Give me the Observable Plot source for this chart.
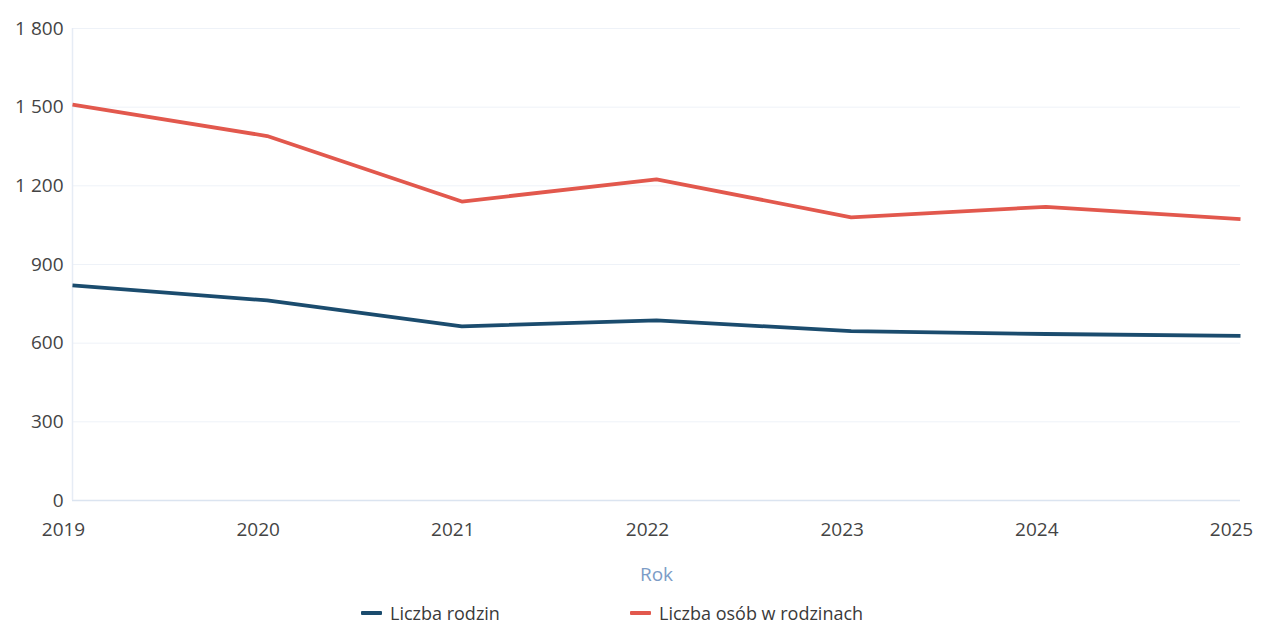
<!DOCTYPE html>
<html>
<head>
<meta charset="utf-8">
<script src="https://cdn.jsdelivr.net/npm/d3@7"></script>
<script src="https://cdn.jsdelivr.net/npm/@observablehq/plot@0.6"></script>
<style>
  body { margin: 0; background: #ffffff; font-family: "Open Sans", sans-serif; }
  #chart { position: relative; width: 1262px; }
  .legend { position: relative; height: 40px; font-family: "Open Sans", sans-serif; font-size: 18px; color: #3a3a3a; }
  .legend .item { position: absolute; top: 6px; display: flex; align-items: center; white-space: nowrap; }
  .legend .sw { width: 21px; height: 4px; margin-right: 8px; border-radius: 1px; }
</style>
</head>
<body>
<div id="chart"></div>
<script>
const years = [2019, 2020, 2021, 2022, 2023, 2024, 2025];
const liczbaRodzin = [820, 763, 664, 687, 646, 635, 628];
const liczbaOsob = [1510, 1390, 1140, 1225, 1080, 1120, 1073];
const seriesNames = ["Liczba rodzin", "Liczba osób w rodzinach"];
const seriesColors = ["#1b4c6e", "#e2584d"];
const yTicks = [0, 300, 600, 900, 1200, 1500, 1800];
const xLabel = "Rok";

const rows = [];
years.forEach((yr, i) => {
  rows.push({year: yr, value: liczbaRodzin[i], series: seriesNames[0]});
  rows.push({year: yr, value: liczbaOsob[i], series: seriesNames[1]});
});

const loc = d3.formatLocale({thousands: " ", grouping: [3], decimal: ",", currency: ["", ""]});
const fmt = loc.format(",d");

const plot = Plot.plot({
  width: 1262,
  height: 595,
  marginLeft: 72,
  marginRight: 22,
  marginTop: 28,
  marginBottom: 95,
  style: {fontFamily: "Open Sans, sans-serif", fontSize: "19px", color: "#444", background: "#fff"},
  x: {domain: [2019, 2025], ticks: years},
  y: {domain: [0, 1800], ticks: yTicks},
  color: {domain: seriesNames, range: seriesColors},
  marks: [
    Plot.gridY(yTicks, {stroke: "#eef2f8", strokeOpacity: 1}),
    Plot.ruleY([0], {stroke: "#dbe4f0", strokeWidth: 1.5}),
    Plot.ruleX([2019], {stroke: "#e6ecf5", strokeWidth: 1.5}),
    Plot.axisY(yTicks, {tickSize: 0, tickPadding: 9, tickFormat: fmt, label: null, fill: "#444"}),
    Plot.axisX(years, {tickSize: 0, tickPadding: 22, dx: -9, tickFormat: d => String(d), label: null, fill: "#444"}),
    Plot.axisX({tickSize: 0, ticks: [], label: xLabel, labelAnchor: "center", labelOffset: 80, labelArrow: "none", fill: "#7c9cc6"}),
    Plot.line(rows, {x: "year", y: "value", z: "series", stroke: "series", strokeWidth: 3.8, strokeLinejoin: "round", strokeLinecap: "butt"})
  ]
});
document.getElementById("chart").appendChild(plot);

const legend = document.createElement("div");
legend.className = "legend";
const positions = [361, 630];
seriesNames.forEach((n, i) => {
  const it = document.createElement("div");
  it.className = "item";
  it.style.left = positions[i] + "px";
  const sw = document.createElement("span");
  sw.className = "sw";
  sw.style.background = seriesColors[i];
  const tx = document.createElement("span");
  tx.textContent = n;
  it.appendChild(sw); it.appendChild(tx);
  legend.appendChild(it);
});
document.getElementById("chart").appendChild(legend);
</script>
</body>
</html>
